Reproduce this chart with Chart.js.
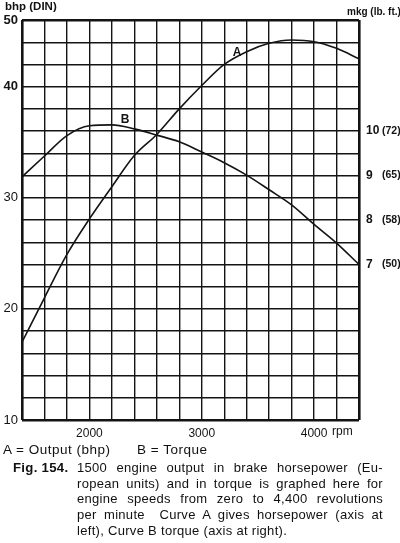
<!DOCTYPE html>
<html>
<head>
<meta charset="utf-8">
<script src="https://cdn.jsdelivr.net/npm/chart.js@4/dist/chart.umd.min.js"></script>
<style>
  html, body { margin: 0; padding: 0; background: #fff; }
  #wrap { position: relative; width: 400px; height: 543px; overflow: hidden; font-family: "Liberation Sans", Arial, sans-serif; color: #111; }
  #c { position: absolute; left: 0; top: 0; }
  .t { position: absolute; white-space: nowrap; }
  .cap { position: absolute; left: 77px; width: 306px; font-size: 13px; letter-spacing: 0.3px; line-height: 15.7px; text-align: justify; text-align-last: justify; white-space: nowrap; }
  .cap.last { text-align-last: left; }
</style>
</head>
<body>
<div id="wrap">
  <canvas id="c" width="400" height="543"></canvas>
  <div class="t" style="left:5px; top:0px; font-size:11.5px; font-weight:bold;">bhp (DIN)</div>
  <div class="t" style="left:347px; top:6px; font-size:10px; font-weight:bold;">mkg (lb. ft.)</div>
  <div class="t" style="left:3px; top:442px; font-size:13.5px; letter-spacing:0.5px;">A = Output (bhp)</div>
  <div class="t" style="left:137px; top:442px; font-size:13.5px; letter-spacing:0.5px;">B = Torque</div>
  <div class="t" style="left:13px; top:460px; font-size:13.2px; font-weight:bold; letter-spacing:0.3px; line-height:15.7px;">Fig. 154.</div>
  <div class="cap" style="top:460px;">1500 engine output in brake horsepower (Eu-</div>
  <div class="cap" style="top:475.7px;">ropean units) and in torque is graphed here for</div>
  <div class="cap" style="top:491.4px;">engine speeds from zero to 4,400 revolutions</div>
  <div class="cap" style="top:507.1px;">per minute&nbsp; Curve A gives horsepower (axis at</div>
  <div class="cap last" style="top:522.8px;">left), Curve B torque (axis at right).</div>
</div>
<script>
// ---- data ----
const rpm = [1400,1600,1800,2000,2200,2400,2600,2800,3000,3200,3400,3600,3800,4000,4200,4400];
const outputBhp = [17.0,21.0,24.9,28.1,31.0,33.8,35.7,38.0,40.1,42.0,43.15,43.9,44.2,44.05,43.45,42.5];
const torqueMkg = [8.97,9.44,9.9,10.12,10.14,10.05,9.91,9.76,9.53,9.29,9.01,8.68,8.34,7.9,7.48,7.0];

const xTickValues = [2000, 3000, 4000];
const xTickLabels = ["2000", "3000", "4000"];
const leftTickValues = [10, 20, 30, 40, 46];
const leftTickLabels = ["10", "20", "30", "40", "50"];
const rightTickValues = [7, 8, 9, 10];
const rightTickLabels = ["7", "8", "9", "10"];
const rightTickLbft = ["(50)", "(58)", "(65)", "(72)"];
const curveNames = ["A", "B"];
// ---- end data ----

const INK = '#141414';
const gridVals = [];
for (let v = 10; v <= 46; v += 2) gridVals.push(v);

const extras = {
  id: 'extras',
  afterDraw(chart) {
    const ctx = chart.ctx;
    const x = chart.scales.x, y = chart.scales.y, y1 = chart.scales.y1;
    ctx.save();
    ctx.fillStyle = INK;
    ctx.textBaseline = 'middle';
    // rpm unit
    ctx.font = '12px "Liberation Sans", Arial, sans-serif';
    ctx.textAlign = 'left';
    ctx.fillText('rpm', x.getPixelForValue(4000) + 18, x.top + 12);
    // lb.ft equivalents
    ctx.font = 'bold 10.5px "Liberation Sans", Arial, sans-serif';
    rightTickValues.forEach((v, i) => {
      ctx.fillText(rightTickLbft[i], 382, y1.getPixelForValue(v));
    });
    // curve names
    ctx.font = 'bold 12px "Liberation Sans", Arial, sans-serif';
    ctx.textAlign = 'center';
    ctx.fillText(curveNames[0], x.getPixelForValue(3314), y.getPixelForValue(43.1));
    ctx.fillText(curveNames[1], x.getPixelForValue(2317), y1.getPixelForValue(10.25));
    ctx.restore();
  }
};

new Chart(document.getElementById('c'), {
  type: 'line',
  data: {
    labels: rpm,
    datasets: [
      { label: 'A', data: rpm.map((r, i) => ({x: r, y: outputBhp[i]})), yAxisID: 'y',
        borderColor: INK, borderWidth: 1.6, pointRadius: 0, cubicInterpolationMode: 'monotone', fill: false },
      { label: 'B', data: rpm.map((r, i) => ({x: r, y: torqueMkg[i]})), yAxisID: 'y1',
        borderColor: INK, borderWidth: 1.6, pointRadius: 0, cubicInterpolationMode: 'monotone', fill: false }
    ]
  },
  options: {
    responsive: false,
    animation: false,
    devicePixelRatio: 1,
    layout: { padding: { top: 20, left: 0, right: 0, bottom: 0 } },
    plugins: { legend: { display: false }, tooltip: { enabled: false } },
    scales: {
      x: {
        type: 'linear', min: 1400, max: 4400,
        afterFit: s => { s.height = 123; },
        border: { display: false },
        grid: { color: INK, drawTicks: false,
          lineWidth: c => (c.tick && (c.tick.value === 1400 || c.tick.value === 4400)) ? 2.6 : 1.4 },
        ticks: { stepSize: 200, autoSkip: false, maxRotation: 0, padding: 6, color: INK,
          font: { family: '"Liberation Sans", Arial, sans-serif', size: 12 },
          callback: v => { const i = xTickValues.indexOf(v); return i >= 0 ? xTickLabels[i] : ''; } }
      },
      y: {
        type: 'linear', position: 'left', min: 10, max: 46,
        afterFit: s => { s.width = 22; },
        afterBuildTicks: s => { s.ticks = gridVals.map(v => ({ value: v })); },
        border: { display: false },
        grid: { color: INK, drawTicks: false,
          lineWidth: c => (c.tick && (c.tick.value === 10 || c.tick.value === 46)) ? 2.6 : 1.4 },
        ticks: { autoSkip: false, padding: 4, color: INK,
          font: c => ({ family: '"Liberation Sans", Arial, sans-serif', size: 13,
            weight: (c.tick && c.tick.value >= 40) ? 'bold' : 'normal' }),
          callback: v => { const i = leftTickValues.indexOf(v); return i >= 0 ? leftTickLabels[i] : ''; } }
      },
      y1: {
        type: 'linear', position: 'right', min: 3.5, max: 12.5,
        afterFit: s => { s.width = 41; },
        afterBuildTicks: s => { s.ticks = rightTickValues.map(v => ({ value: v })); },
        border: { display: false },
        grid: { display: false, drawTicks: false },
        ticks: { autoSkip: false, padding: 7, color: INK,
          font: { family: '"Liberation Sans", Arial, sans-serif', size: 12, weight: 'bold' },
          callback: v => { const i = rightTickValues.indexOf(v); return i >= 0 ? rightTickLabels[i] : ''; } }
      }
    }
  },
  plugins: [extras]
});
</script>
</body>
</html>
